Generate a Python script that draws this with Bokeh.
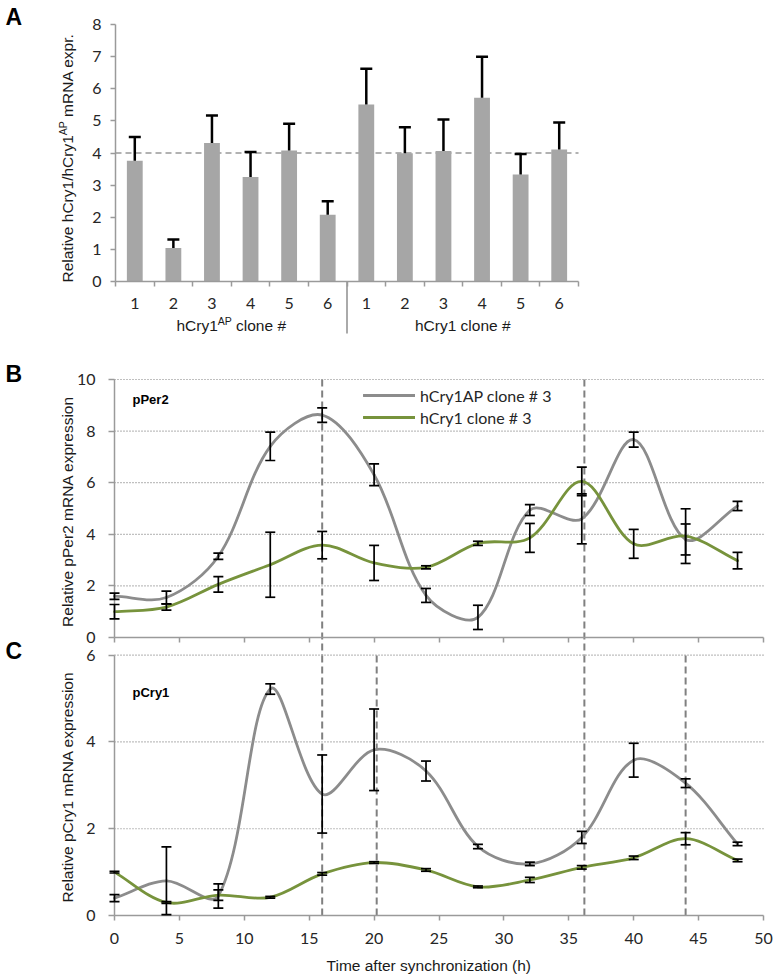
import math
from bokeh.plotting import figure
from bokeh.models import (Range1d, FixedTicker, Label, Legend, LegendItem, LinearAxis,
                          ColumnDataSource, Whisker, TeeHead)
from bokeh.layouts import column
from bokeh.embed import file_html
from bokeh.resources import INLINE

# ---------------- data: panel A ----------------
clone_labels = ["1", "2", "3", "4", "5", "6", "1", "2", "3", "4", "5", "6"]
bar_values = [3.76, 1.04, 4.31, 3.25, 4.08, 2.08, 5.51, 3.99, 4.06, 5.72, 3.33, 4.11]
bar_errors = [0.74, 0.27, 0.86, 0.78, 0.83, 0.42, 1.11, 0.81, 0.98, 1.28, 0.64, 0.84]
reference_level = 4
a_yticks = [0, 1, 2, 3, 4, 5, 6, 7, 8]

# ---------------- data: panels B and C ----------------
time_h = [0, 4, 8, 12, 16, 20, 24, 28, 32, 36, 40, 44, 48]
per2_ap = [1.60, 1.55, 3.15, 7.41, 8.62, 6.31, 1.63, 0.78, 4.94, 4.60, 7.67, 3.80, 5.10]
per2_ap_err = [0.12, 0.25, 0.12, 0.55, 0.28, 0.42, 0.27, 0.47, 0.21, 0.97, 0.29, 0.60, 0.18]
per2_wt = [1.00, 1.18, 2.06, 2.82, 3.58, 2.89, 2.72, 3.65, 3.86, 6.05, 3.63, 3.93, 2.98]
per2_wt_err = [0.28, 0.12, 0.30, 1.26, 0.53, 0.68, 0.06, 0.08, 0.56, 0.55, 0.56, 1.06, 0.32]

cry1_ap = [0.40, 0.80, 0.45, 5.22, 2.80, 3.82, 3.33, 1.59, 1.19, 1.80, 3.58, 3.05, 1.65]
cry1_ap_err = [0.08, 0.78, 0.28, 0.12, 0.90, 0.94, 0.23, 0.05, 0.04, 0.14, 0.39, 0.10, 0.04]
cry1_wt = [1.00, 0.30, 0.47, 0.42, 0.96, 1.22, 1.05, 0.66, 0.82, 1.11, 1.33, 1.77, 1.27]
cry1_wt_err = [0.02, 0.02, 0.12, 0.02, 0.03, 0.02, 0.03, 0.02, 0.06, 0.04, 0.04, 0.14, 0.03]

b_yticks = [0, 2, 4, 6, 8, 10]
c_yticks = [0, 2, 4, 6]
x_ticks = [0, 5, 10, 15, 20, 25, 30, 35, 40, 45, 50]
vlines_B = [16, 36.2]
vlines_C = [16, 20.2, 36.2, 44]
series_names = ["hCry1AP clone # 3", "hCry1 clone # 3"]

# ---------------- styles ----------------
GRAY = "#8c8c8c"
GREEN = "#77933c"
BAR = "#a6a6a6"
AXIS = "#9a9a9a"
TXT = "#262626"
TICKFONT = "Lato"
LABFONT = "Liberation Sans"
W = 776
ROT = math.pi / 2


def x_map(x_px, x_val):
    sx = (x_px[1] - x_px[0]) / (x_val[1] - x_val[0])
    rng = Range1d(x_val[0] - x_px[0] / sx, x_val[0] + (W - x_px[0]) / sx)
    return rng, (lambda cx: x_val[0] + (cx - x_px[0]) / sx), sx


def y_map(h, y_px, y_val):
    sy = (y_px[0] - y_px[1]) / (y_val[1] - y_val[0])
    rng = Range1d(y_val[0] - (h - y_px[0]) / sy, y_val[0] + y_px[0] / sy)
    return rng, (lambda cy: y_val[0] + (y_px[0] - cy) / sy), sy


def new_fig(h, xr, yr, **kw):
    p = figure(width=W, height=h, x_range=xr, y_range=yr, min_border=0,
               output_backend="svg", toolbar_location=None, **kw)
    p.outline_line_color = None
    p.background_fill_color = "white"
    p.border_fill_color = "white"
    p.xgrid.visible = False
    p.ygrid.visible = False
    return p


def style_axis(ax, bounds, ticks, tick_out, standoff):
    ax.fixed_location = 0
    ax.bounds = bounds
    ax.ticker = ticks
    ax.axis_line_color = AXIS
    ax.axis_line_width = 1.5
    ax.major_tick_line_color = AXIS
    ax.major_tick_line_width = 1.5
    ax.minor_tick_line_color = AXIS
    ax.minor_tick_line_width = 1.5
    ax.major_tick_in = 0
    ax.minor_tick_in = 0
    ax.minor_tick_out = 0
    ax.major_tick_out = tick_out
    ax.major_label_standoff = standoff
    ax.major_label_text_font = TICKFONT
    ax.major_label_text_font_size = "16px"
    ax.major_label_text_color = TXT


def label(p, text, x, y, xo=0, yo=0, size="15.5px", style="normal", font=LABFONT,
          align="left", baseline="middle", angle=0.0, color="#1a1a1a", **kw):
    p.add_layout(Label(x=x, y=y, x_offset=xo, y_offset=yo, text=text, text_font=font,
                       text_font_size=size, text_font_style=style, text_align=align,
                       text_baseline=baseline, angle=angle, text_color=color, **kw))


def smooth(p, xs, ys, color, sx, sy, **kw):
    """Excel-like smoothed line: cubic Bezier segments, arms scaled by segment lengths."""
    n = len(xs)

    def dist(i, j):
        if i < 0 or j >= n:
            return 0.0
        return math.hypot((xs[j] - xs[i]) * sx, (ys[j] - ys[i]) * sy)

    def tang(i):
        a, b = max(i - 1, 0), min(i + 1, n - 1)
        return xs[b] - xs[a], ys[b] - ys[a]

    seg = {k: [] for k in ("x0", "y0", "x1", "y1", "cx0", "cy0", "cx1", "cy1")}
    for i in range(n - 1):
        d_prev, d_cur, d_next = dist(i - 1, i), dist(i, i + 1), dist(i + 1, i + 2)
        f0 = d_cur / (d_prev + d_cur) / 3
        f1 = d_cur / (d_cur + d_next) / 3
        t0, t1 = tang(i), tang(i + 1)
        seg["x0"].append(xs[i]); seg["y0"].append(ys[i])
        seg["x1"].append(xs[i + 1]); seg["y1"].append(ys[i + 1])
        seg["cx0"].append(xs[i] + t0[0] * f0); seg["cy0"].append(ys[i] + t0[1] * f0)
        seg["cx1"].append(xs[i + 1] - t1[0] * f1); seg["cy1"].append(ys[i + 1] - t1[1] * f1)
    return p.bezier(x0="x0", y0="y0", x1="x1", y1="y1", cx0="cx0", cy0="cy0",
                    cx1="cx1", cy1="cy1", source=ColumnDataSource(seg),
                    line_color=color, line_width=2.8, line_cap="round", **kw)


def errbars(p, xs, ys, es, size=10, lw=1.7, **kw):
    src = ColumnDataSource(dict(x=xs, lo=[y - e for y, e in zip(ys, es)],
                                hi=[y + e for y, e in zip(ys, es)]))
    p.add_layout(Whisker(source=src, base="x", lower="lo", upper="hi", line_color="black",
                         line_width=lw, level="overlay",
                         upper_head=TeeHead(size=size, line_color="black", line_width=lw),
                         lower_head=TeeHead(size=size, line_color="black", line_width=lw),
                         **kw))


# ================= Panel A =================
n_bars = len(bar_values)
centers = [i + 0.5 for i in range(n_bars)]
bounds = list(range(n_bars + 1))
a_ymax = a_yticks[-1]
HA = 350

xrA, cxA, sxA = x_map((115, 578), (0, n_bars))
yrA, cyA, syA = y_map(HA, (281, 24), (0, a_ymax))
pA = new_fig(HA, xrA, yrA)
style_axis(pA.xaxis[0], (0, n_bars), FixedTicker(ticks=centers, minor_ticks=bounds), 0, 11)
pA.xaxis.major_label_overrides = {c: t for c, t in zip(centers, clone_labels)}
pA.xaxis.minor_tick_out = 5
style_axis(pA.yaxis[0], (0, a_ymax), FixedTicker(ticks=a_yticks), 5, 9)

pA.segment(x0=[0], x1=[n_bars], y0=[reference_level], y1=[reference_level],
           line_color="#999999", line_width=1.3, line_dash="6 4", level="underlay")
pA.vbar(x=centers, top=bar_values, width=0.41, fill_color=BAR, line_color=None)
srcA = ColumnDataSource(dict(x=centers, lo=bar_values,
                             hi=[v + e for v, e in zip(bar_values, bar_errors)]))
pA.add_layout(Whisker(source=srcA, base="x", lower="lo", upper="hi", line_color="black",
                      line_width=2.5, level="overlay", lower_head=None,
                      upper_head=TeeHead(size=12, line_color="black", line_width=2.5)))
# group separator below the axis
pA.segment(x0=[n_bars / 2], x1=[n_bars / 2], y0=[0], y1=[cyA(333)],
           line_color="#aaaaaa", line_width=2)
# group labels (superscript composed from pieces)
g1 = n_bars / 4
g2 = 3 * n_bars / 4
label(pA, "hCry1", g1, 0, xo=-13.5, yo=-44, align="right")
label(pA, "AP", g1, 0, xo=-13.5, yo=-39.5, align="left", size="10.5px")
label(pA, "clone #", g1, 0, xo=4.8, yo=-44, align="left")
label(pA, "hCry1 clone #", g2, 0, yo=-44, align="center")
# rotated y title with superscript
label(pA, "Relative hCry1/hCry1", cxA(66.5), cyA(134.7), align="right", angle=ROT)
label(pA, "AP", cxA(62.0), cyA(134.7), align="left", angle=ROT, size="10.5px")
label(pA, "mRNA expr.", cxA(66.5), cyA(116.4), align="left", angle=ROT)
label(pA, "A", cxA(5), cyA(16.5), size="23px", style="bold", color="black")

# ================= Panels B & C (one canvas, two y ranges) =================
HBC = 630
xr, cx, sx = x_map((114, 763), (x_ticks[0], x_ticks[-1]))
yrB, cyB, syB = y_map(HBC, (287, 29), (0, b_yticks[-1]))
yrC, cyC, syC = y_map(HBC, (565, 304.7), (0, c_yticks[-1]))
p = new_fig(HBC, xr, yrB, extra_y_ranges={"c": yrC})
X0, X1 = x_ticks[0], x_ticks[-1]

# axes of B (default) and C (extra range)
style_axis(p.xaxis[0], (X0, X1), FixedTicker(ticks=x_ticks), 5, 0)
p.xaxis[0].major_label_overrides = {t: "" for t in x_ticks}
style_axis(p.yaxis[0], (0, b_yticks[-1]), FixedTicker(ticks=b_yticks), 6, 13)
axCx = LinearAxis(y_range_name="c")
style_axis(axCx, (X0, X1), FixedTicker(ticks=x_ticks), 5, 12)
p.add_layout(axCx, "below")
axCy = LinearAxis(y_range_name="c")
style_axis(axCy, (0, c_yticks[-1]), FixedTicker(ticks=c_yticks), 6, 13)
p.add_layout(axCy, "left")

# dotted horizontal grid
gB = [t for t in b_yticks if t > 0]
gC = [t for t in c_yticks if t > 0]
p.segment(x0=[X0] * len(gB), x1=[X1] * len(gB), y0=gB, y1=gB, line_color="#808080",
          line_dash="1 2", line_width=1.2, level="underlay")
p.segment(x0=[X0] * len(gC), x1=[X1] * len(gC), y0=gC, y1=gC, line_color="#808080",
          line_dash="1 2", line_width=1.2, level="underlay", y_range_name="c")

# vertical dashed markers (B ones continue down into C)
c_top_in_B = cyB(304.7)
p.segment(x0=vlines_B, x1=vlines_B, y0=[b_yticks[-1]] * len(vlines_B),
          y1=[c_top_in_B] * len(vlines_B), line_color="#808080", line_width=2,
          line_dash="7 4", level="underlay")
p.segment(x0=vlines_C, x1=vlines_C, y0=[0] * len(vlines_C),
          y1=[c_top_val for c_top_val in [c_yticks[-1]] * len(vlines_C)],
          line_color="#808080", line_width=2, line_dash="7 4", level="underlay",
          y_range_name="c")

# B series
rB1 = smooth(p, time_h, per2_ap, GRAY, sx, syB)
rB2 = smooth(p, time_h, per2_wt, GREEN, sx, syB)
errbars(p, time_h, per2_ap, per2_ap_err)
errbars(p, time_h, per2_wt, per2_wt_err)
# C series
smooth(p, time_h, cry1_ap, GRAY, sx, syC, y_range_name="c")
smooth(p, time_h, cry1_wt, GREEN, sx, syC, y_range_name="c")
errbars(p, time_h, cry1_ap, cry1_ap_err, y_range_name="c")
errbars(p, time_h, cry1_wt, cry1_wt_err, y_range_name="c")

leg = Legend(items=[LegendItem(label=series_names[0], renderers=[rB1]),
                    LegendItem(label=series_names[1], renderers=[rB2])],
             location=(363, HBC - 77), glyph_width=52, glyph_height=20, label_height=20,
             label_standoff=5, spacing=2, padding=0, margin=0, border_line_color=None,
             background_fill_alpha=0, label_text_font=TICKFONT, label_text_font_size="16px",
             label_text_color=TXT)
p.add_layout(leg)

label(p, "pPer2", 0, b_yticks[-1], xo=18, yo=-20, size="13px", style="bold", color="black")
label(p, "Relative pPer2 mRNA expression", cx(66.5), cyB(161), align="center", angle=ROT)
label(p, "B", cx(5), cyB(23), size="23px", style="bold", color="black")

label(p, "pCry1", 0, c_yticks[-1], xo=18, yo=-37, size="13px", style="bold", color="black",
      y_range_name="c")
label(p, "Relative pCry1 mRNA expression", cx(66.5), cyB(436.5), align="center", angle=ROT)
label(p, "Time after synchronization (h)", cx(428.3), cyB(615), align="center")
label(p, "C", cx(5), cyB(300.5), size="23px", style="bold", color="black")

layout = column(pA, p, spacing=0)
open("out.html", "w").write(file_html(layout, INLINE))
